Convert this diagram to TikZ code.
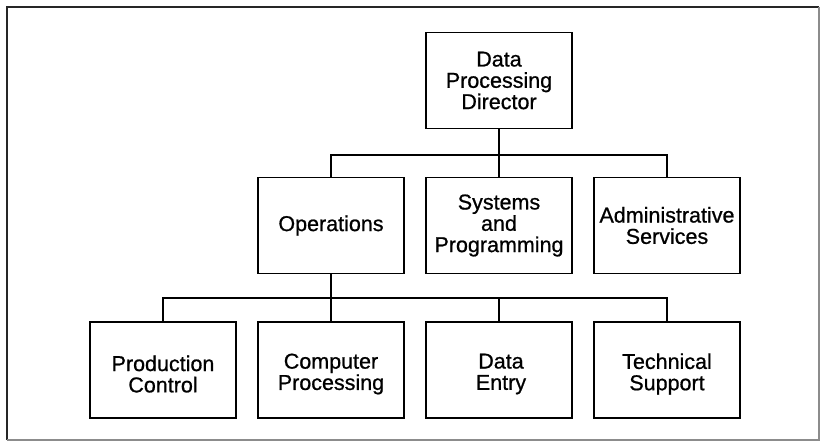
\documentclass[tikz,border=0pt]{standalone}
\usepackage{fontspec}
\setmainfont[FakeBold=0.8]{Liberation Sans}
\begin{document}
\begin{tikzpicture}[x=1pt,y=-1pt,
  box/.style={draw=black,line width=1.9pt,minimum width=146pt,minimum height=96pt,inner sep=0pt,align=center,
    font=\fontsize{21.5}{21.3}\selectfont},
  txt/.style={inner sep=0pt,align=center,font=\fontsize{21.5}{21.3}\selectfont},
  conn/.style={draw=black,line width=2.4pt},
]
\useasboundingbox (0,0) rectangle (821,441);
% frame
\draw[line width=1.8pt,black!85] (7,440) -- (7,7) -- (819,7);
\draw[line width=1.4pt,black!45] (819,7) -- (819,440) -- (7,440);
% nodes
\node[box] (dir) at (499,80.5) {Data\\Processing\\Director};
\node[box] (ops) at (331,225.5) {Operations};
\node[box] (sys) at (499,225.5) {Systems\\and\\Programming};
\node[box] (adm) at (667,225.5) {Administrative\\Services};
\node[box] (pc) at (163,370) {};
\node[box] (cp) at (331,370) {};
\node[box] (de) at (499,370) {};
\node[box] (ts) at (667,370) {};
\node[txt] (pct) at ([yshift=-4pt]pc.center) {Production\\Control};
\node[txt] (cpt) at ([yshift=-4pt]cp.center) {Computer\\Processing};
\node[txt] (det) at ([yshift=-4pt,xshift=2pt]de.center) {Data\\Entry};
\node[txt] (tst) at ([yshift=-4pt]ts.center) {Technical\\Support};
% connectors
\coordinate (b1) at (499,155);
\coordinate (b2) at (331,298);
\draw[conn] (dir.south) -- (sys.north);
\draw[conn] (ops.north) |- (adm.north |- b1) -- (adm.north);
\draw[conn] (ops.south) -- (cp.north);
\draw[conn] (pc.north) |- (ts.north |- b2) -- (ts.north);
\draw[conn] (de.north) -- (de.north |- b2);
\end{tikzpicture}
\end{document}
